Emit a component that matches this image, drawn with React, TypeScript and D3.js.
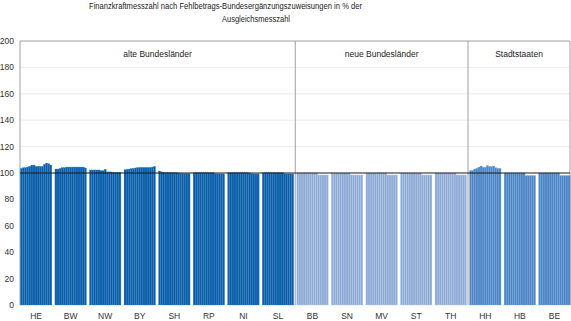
import React from "react";
import * as d3 from "d3";

const states = ["HE","BW","NW","BY","SH","RP","NI","SL","BB","SN","MV","ST","TH","HH","HB","BE"];
const groupOf = ["alt","alt","alt","alt","alt","alt","alt","alt","neu","neu","neu","neu","neu","stadt","stadt","stadt"];
const years = d3.range(1995, 2010).map(String);

const HE = [103.5,104,104,104.5,105,106,106,105,105,105,105,106.5,107.5,107,106];
const BW = [103,103,103.5,104,104,104.5,104.5,104.5,104.5,104.5,104.5,104.5,104.5,104.5,103.8];
const NW = [102.3,102.3,102.3,102.3,102.3,101.8,101.8,102.8,100.8,100.8,100.8,100.5,100.5,100.5,100.5];
const BY = [102.5,102.8,103,103.3,103.5,103.8,104,104.2,104.2,104.2,104.2,104.2,104.2,104.5,105];
const SH = [101.5,100.8,100.5,100.3,100.3,100.3,100.2,100.2,100.2,100,99.8,99.5,99.5,99.5,99.5];
const RP = [100.2,100.2,100.2,100.2,100.2,100.2,100.2,100.2,100.2,100.2,99.5,99.3,99.3,99.3,99.3];
const NI = [100.2,100.2,100.2,100.2,100.2,100.2,100.2,100.2,100.2,100.2,100,99.5,99.3,99.3,99.3];
const SL = [100.2,100.2,100.2,100.2,100.2,100.2,100.2,100.2,100.2,100.2,99.5,99.3,99.3,99.3,99.3];
const BB = [100,100,100,100,100,100,100,100,100,100,98.5,98.5,98.5,98.5,98.5];
const SN = [100,100,100,100,100,100,100,100,100,98.5,98.5,98.5,98.5,98.5,98.5];
const MV = [100,100,100,100,100,100,100,100,100,100,98.5,98.5,98.5,98.5,98.5];
const ST = [100,100,100,100,100,100,100,100,100,100,98.5,98.5,98.5,98.5,98.5];
const TH = [100,100,100,100,100,100,100,100,100,100,98.5,98.5,98.5,98.5,98.5];
const HH = [101.8,102,103,103.5,104.5,105.3,104.3,104.3,105.5,104.8,104.8,105.3,104,103.5,103.5];
const HB = [100,100,100,100,100,100,100,100,100,100,98,98,98,98,98];
const BE = [100,100,100,100,100,100,100,100,100,100,98,98,98,98,98];
const values = [HE,BW,NW,BY,SH,RP,NI,SL,BB,SN,MV,ST,TH,HH,HB,BE];

const yTicks = [0,20,40,60,80,100,120,140,160,180,200];
const regionLabels = [
  { label: "alte Bundesländer", from: "HE", to: "SL" },
  { label: "neue Bundesländer", from: "BB", to: "TH" },
  { label: "Stadtstaaten", from: "HH", to: "BE" },
];
const titleLines = [
  "Finanzkraftmesszahl nach Fehlbetrags-Bundesergänzungszuweisungen  in % der",
  "Ausgleichsmesszahl",
];

const fills: Record<string, string> = { alt: "#0b5fa9", neu: "#8eabd6", stadt: "#4c86c6" };
const strokes: Record<string, string> = { alt: "#3c80c2", neu: "#b5cbe8", stadt: "#7ea7d8" };

export default function App() {
  const W = 571, H = 321;
  const left = 20, right = 570, top = 41, bottom = 305;
  const y = d3.scaleLinear().domain([0, 200]).range([bottom, top]);
  const x = d3.scaleBand().domain(states).range([left - 1, right + 1.5]).paddingInner(0.09).paddingOuter(0.04);
  const xi = d3.scaleBand().domain(years).range([0, x.bandwidth()]).padding(0);
  const step = x.step();
  const gap = step - x.bandwidth();
  const divX = (s: string) => (x(s) as number) - gap / 2;
  const font = "Liberation Sans, Arial, Helvetica, sans-serif";

  return (
    <svg width={W} height={H} style={{ position: "absolute", left: 0, top: 0, background: "#fff" }}>
      <g fontFamily={font} fill="#222" style={{ whiteSpace: "pre" }}>
        <text x={89} y={9} fontSize={8.8} textLength={273} lengthAdjust="spacingAndGlyphs">{titleLines[0]}</text>
        <text x={222} y={22} fontSize={8.8} textLength={68} lengthAdjust="spacingAndGlyphs">{titleLines[1]}</text>
      </g>
      {yTicks.filter(t => t > 100 && t < 200).map(t => (
        <line key={"g" + t} x1={left} x2={right} y1={y(t)} y2={y(t)} stroke="#ececec" strokeWidth={1} />
      ))}
      <line x1={left} x2={right} y1={top} y2={top} stroke="#a0a0a0" strokeWidth={1} />
      <line x1={left} x2={left} y1={top} y2={bottom} stroke="#a0a0a0" strokeWidth={1} />
      <line x1={right} x2={right} y1={top} y2={bottom} stroke="#a0a0a0" strokeWidth={1} />
      <line x1={divX("BB")} x2={divX("BB")} y1={top} y2={bottom} stroke="#a0a0a0" strokeWidth={1} />
      <line x1={divX("HH")} x2={divX("HH")} y1={top} y2={bottom} stroke="#a0a0a0" strokeWidth={1} />
      {regionLabels.map(r => {
        const a = r.from === "HE" ? left : divX(r.from);
        const b = r.to === "BE" ? right : divX(states[states.indexOf(r.to) + 1]);
        return (
          <text key={r.label} x={(a + b) / 2} y={57} fontSize={8.5} textAnchor="middle" fontFamily={font} fill="#222">{r.label}</text>
        );
      })}
      {states.map((s, si) => (
        <g key={s} transform={`translate(${x(s)},0)`}>
          {values[si].map((v, yi) => (
            <rect key={yi} x={xi(years[yi])} y={y(v)} width={xi.bandwidth()} height={y(0) - y(v)}
              fill={fills[groupOf[si]]} stroke={strokes[groupOf[si]]} strokeWidth={0.35} />
          ))}
        </g>
      ))}
      <line x1={left} x2={right} y1={y(100)} y2={y(100)} stroke="#1a1a1a" strokeWidth={1.1} />
      <g fontFamily={font} fontSize={8.5} fill="#333">
        {yTicks.map(t => (
          <text key={t} x={14} y={y(t) + 3} textAnchor="end">{t}</text>
        ))}
        {states.map(s => (
          <text key={s} x={(x(s) as number) + x.bandwidth() / 2} y={319} textAnchor="middle">{s}</text>
        ))}
      </g>
    </svg>
  );
}
